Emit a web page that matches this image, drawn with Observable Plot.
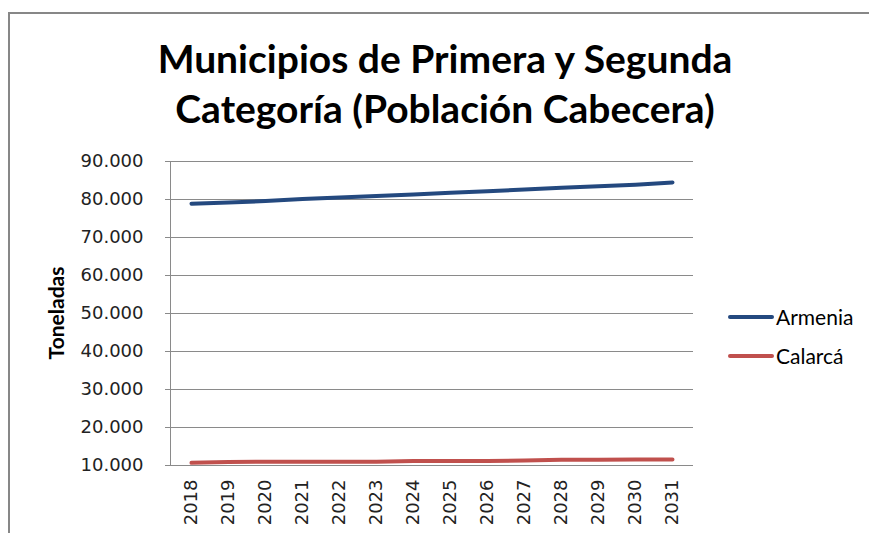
<!DOCTYPE html>
<html>
<head>
<meta charset="utf-8">
<script src="https://cdn.jsdelivr.net/npm/d3@7"></script>
<script src="https://cdn.jsdelivr.net/npm/@observablehq/plot@0.6"></script>
<style>
  html, body { margin: 0; padding: 0; background: #fff; }
  #wrap { position: relative; width: 869px; height: 533px; overflow: hidden; background: #fff; }
  #frame { position: absolute; left: 8px; top: 12px; width: 880px; height: 600px; border: 2px solid #878787; box-sizing: border-box; }
  #title { position: absolute; left: 0; width: 890px; top: 33px; text-align: center; font-family: Lato, sans-serif; font-weight: bold; font-size: 39px; line-height: 50px; color: #000; }
  #ylabel { position: absolute; left: 55px; top: 313px; transform: translate(-50%, -50%) rotate(-90deg); font-family: Lato, sans-serif; font-weight: bold; font-size: 21px; color: #000; white-space: nowrap; }
  #plot { position: absolute; left: 0; top: 140px; }
  .leg { position: absolute; left: 728px; font-family: Lato, sans-serif; font-size: 21px; color: #000; display: flex; align-items: center; }
  .leg span.sw { display: inline-block; width: 46px; height: 4px; border-radius: 2px; margin-right: 2px; }
</style>
</head>
<body>
<div id="wrap">
  <div id="frame"></div>
  <div id="title">Municipios de Primera y Segunda<br>Categoría (Población Cabecera)</div>
  <div id="ylabel">Toneladas</div>
  <div id="plot"></div>
  <div class="leg" id="leg0" style="top:304px"></div>
  <div class="leg" id="leg1" style="top:343px"></div>
</div>
<script>
const years = ["2018","2019","2020","2021","2022","2023","2024","2025","2026","2027","2028","2029","2030","2031"];
const armenia = [78900, 79200, 79600, 80100, 80500, 80900, 81300, 81800, 82200, 82600, 83100, 83500, 83900, 84500];
const calarca = [10700, 10900, 11000, 11000, 11000, 11000, 11200, 11200, 11200, 11300, 11500, 11500, 11600, 11600];
const seriesNames = ["Armenia", "Calarcá"];
const seriesColors = ["#24497F", "#C0504D"];
const yTicks = [10000, 20000, 30000, 40000, 50000, 60000, 70000, 80000, 90000];

const rows = [];
[armenia, calarca].forEach((vals, si) => {
  vals.forEach((v, i) => rows.push({year: years[i], value: v, serie: seriesNames[si]}));
});

const fmt = d => d3.format(",")(d).replace(/,/g, ".");

const chart = Plot.plot({
  width: 869,
  height: 393,
  marginLeft: 170,
  marginRight: 176,
  marginTop: 21,
  marginBottom: 68,
  style: {background: "transparent", fontFamily: "'DejaVu Sans', sans-serif", fontSize: "18px", color: "#222"},
  x: {type: "point", domain: years, padding: 0.5},
  y: {domain: [10000, 90000]},
  color: {domain: seriesNames, range: seriesColors},
  marks: [
    Plot.gridY(yTicks, {stroke: "#8a8a8a", strokeOpacity: 1, strokeWidth: 1}),
    Plot.axisY(yTicks, {tickSize: 5, tickPadding: 22, stroke: "#8a8a8a", tickFormat: fmt, fontSize: 18, label: null}),
    Plot.frame({anchor: "left", stroke: "#8a8a8a"}),
    Plot.ruleY([10000], {stroke: "#8a8a8a"}),
    Plot.axisX({tickSize: 0, tickRotate: -90, tickPadding: 14, fontSize: 18, label: null}),
    Plot.line(rows, {x: "year", y: "value", z: "serie", stroke: "serie", strokeWidth: 4, strokeLinecap: "round", strokeLinejoin: "round"})
  ]
});
document.getElementById("plot").appendChild(chart);

seriesNames.forEach((n, i) => {
  const el = document.getElementById("leg" + i);
  el.innerHTML = `<span class="sw" style="background:${seriesColors[i]}"></span>${n}`;
});
</script>
</body>
</html>
